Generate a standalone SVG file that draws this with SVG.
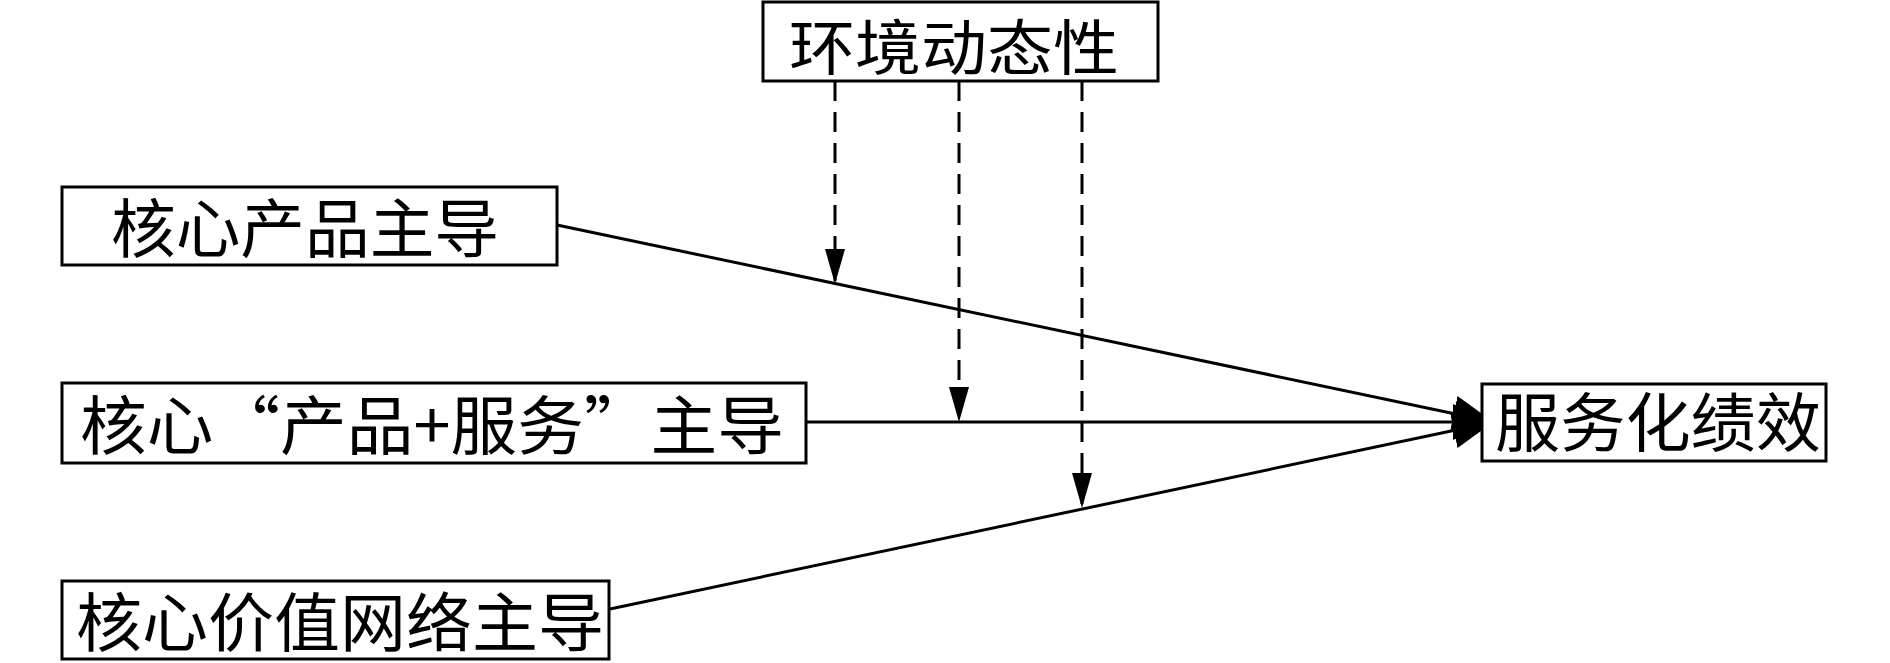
<svg xmlns="http://www.w3.org/2000/svg" width="1890" height="663" viewBox="0 0 1890 663">
<style>
  .box { fill: #ffffff; stroke: #000000; stroke-width: 3; }
  .lbl { font-family: "Noto Sans CJK SC", "Noto Sans", sans-serif; font-size: 64px; fill: #000000; }
  .solid { fill: none; stroke: #000000; stroke-width: 3; }
  .dash { fill: none; stroke: #000000; stroke-width: 3; stroke-dasharray: 20 11; }
</style>
<defs>
  <marker id="bigArrow" markerUnits="userSpaceOnUse" viewBox="0 0 40 36" markerWidth="40" markerHeight="36" refX="36" refY="18" orient="auto">
    <path d="M0,0 L40,18 L0,36 Z" fill="#000000"/>
  </marker>
  <marker id="smallArrow" markerUnits="userSpaceOnUse" viewBox="0 0 35 20" markerWidth="35" markerHeight="20" refX="32" refY="10" orient="auto">
    <path d="M0,0 L35,10 L0,20 Z" fill="#000000"/>
  </marker>
</defs>

<g id="connectors">
  <line class="solid" x1="557" y1="225" x2="1489" y2="421" marker-end="url(#bigArrow)"/>
  <line class="solid" x1="806" y1="422" x2="1489" y2="422" marker-end="url(#bigArrow)"/>
  <line class="solid" x1="610" y1="609" x2="1489" y2="423" marker-end="url(#bigArrow)"/>
  <line class="dash" x1="835" y1="81" x2="835" y2="281" marker-end="url(#smallArrow)"/>
  <line class="dash" x1="959" y1="81" x2="959" y2="419" marker-end="url(#smallArrow)"/>
  <line class="dash" x1="1082" y1="81" x2="1082" y2="505" marker-end="url(#smallArrow)"/>
</g>

<g id="node-env">
  <rect class="box" x="763" y="2" width="395" height="79"/>
  <text class="lbl" x="789" y="70" font-size="60" textLength="330" lengthAdjust="spacingAndGlyphs" style="font-size:60px">环境动态性</text>
</g>

<g id="node-product">
  <rect class="box" x="62" y="187" width="495" height="78"/>
  <text class="lbl" x="111" y="252" textLength="388" lengthAdjust="spacingAndGlyphs">核心产品主导</text>
</g>

<g id="node-product-service">
  <rect class="box" x="62" y="383" width="744" height="80"/>
  <text class="lbl" x="80" y="449" textLength="704" lengthAdjust="spacingAndGlyphs">核心“产品+服务”主导</text>
</g>

<g id="node-value-network">
  <rect class="box" x="62" y="581" width="547" height="78"/>
  <text class="lbl" x="76" y="646" textLength="528" lengthAdjust="spacingAndGlyphs">核心价值网络主导</text>
</g>

<g id="node-performance">
  <rect class="box" x="1482" y="384" width="344" height="77"/>
  <text class="lbl" x="1495" y="446" textLength="326" lengthAdjust="spacingAndGlyphs">服务化绩效</text>
</g>
</svg>
